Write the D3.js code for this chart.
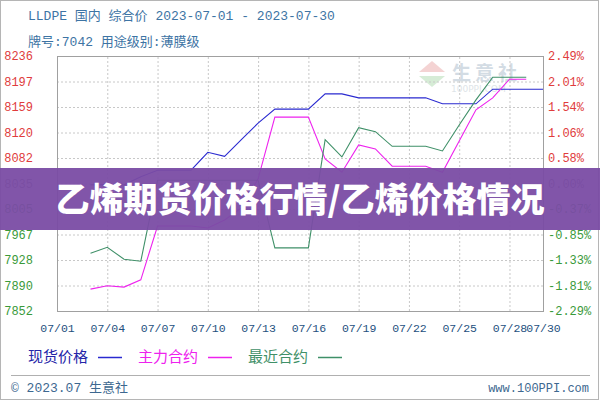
<!DOCTYPE html>
<html>
<head>
<meta charset="utf-8">
<script src="https://cdn.jsdelivr.net/npm/d3@7"></script>
<style>
  body { margin: 0; background: #fff; }
  svg { display: block; }
</style>
</head>
<body>
<svg id="chart" width="600" height="400"></svg>
<script>
// ---- data ----
var xTickDays   = [1, 4, 7, 10, 13, 16, 19, 22, 25, 28, 30];
var leftLabels  = ["8236", "8197", "8159", "8120", "8082", "8035", "8005", "7967", "7928", "7890", "7852"];
var rightLabels = ["2.49%", "2.01%", "1.54%", "1.06%", "0.58%", "0.00%", "-0.37%", "-0.85%", "-1.33%", "-1.81%", "-2.29%"];

// 现货价格 (spot), 07/03 .. 07/30
var spotDays = [3, 4, 5, 6, 7, 8, 9, 10, 11, 12, 13, 14, 15, 16, 17, 18, 19, 20, 21, 22, 23, 24, 25, 26, 27, 28, 29, 30];
var spotPrice = [8042, 8042, 8042, 8054, 8064, 8064, 8064, 8091, 8085, 8110, 8135, 8156, 8156, 8156, 8179, 8179,
                 8173, 8173, 8173, 8173, 8173, 8164, 8164, 8164, 8186, 8186, 8186, 8186];

// 主力合约 (main contract), 07/03 .. 07/29
var mainDays = [3, 4, 5, 6, 7, 8, 9, 10, 11, 12, 13, 14, 15, 16, 17, 18, 19, 20, 21, 22, 23, 24, 25, 26, 27, 28, 29];
var mainPrice = [7885, 7890, 7888, 7899, 7980, 7980, 7980, 7977, 7989, 8007, 8051, 8144, 8144, 8144, 8081, 8061,
                 8102, 8096, 8070, 8070, 8070, 8061, 8108, 8155, 8173, 8201, 8201];

// 最近合约 (nearest contract), 07/03 .. 07/29
var nearDays = [3, 4, 5, 6, 7, 8, 9, 10, 11, 12, 13, 14, 15, 16, 17, 18, 19, 20, 21, 22, 23, 24, 25, 26, 27, 28, 29];
var nearPrice = [7939, 7948, 7930, 7927, 8049, 8049, 8049, 8049, 8049, 8049, 8049, 7947, 7947, 7947, 8110, 8084,
                 8128, 8122, 8100, 8100, 8100, 8093, 8132, 8170, 8204, 8204, 8204];

var legendNames = ["现货价格", "主力合约", "最近合约"];

// ---- layout ----
var svg = d3.select("#chart");
var plotL = 57, plotR = 543, plotT = 56, plotB = 311;
var monoFont = "'Liberation Mono', 'DejaVu Sans Mono', 'Noto Sans CJK SC', monospace";
var cjkFont = "'Noto Sans CJK SC', 'Noto Sans', sans-serif";

var xScale = d3.scaleLinear().domain([1, 30]).range([plotL, plotR]);
var yScale = d3.scaleLinear().domain([7852, 8236]).range([plotB, plotT]);
var yIdx = d3.scaleLinear().domain([0, 10]).range([plotT, plotB]); // label rows

// outer frame
svg.append("rect")
    .attr("x", 0.5).attr("y", 0.5)
    .attr("width", 598).attr("height", 399)
    .style("fill", "none").style("stroke", "#b5b5b5");

// header text
svg.append("text")
    .attr("x", 28).attr("y", 20)
    .style("font-family", monoFont).style("font-size", "13px")
    .style("fill", "#3d74a4")
    .text("LLDPE 国内 综合价 2023-07-01 - 2023-07-30");

svg.append("text")
    .attr("x", 28).attr("y", 46)
    .style("font-family", monoFont).style("font-size", "13px")
    .style("fill", "#3d74a4")
    .text("牌号:7042 用途级别:薄膜级");

// watermark logo
var wm = svg.append("g").attr("class", "watermark").style("opacity", 0.45);
wm.append("path")
    .attr("d", "M419,72 L432,61 L445,72 Z")
    .style("fill", "#e8a0a0");
wm.append("path")
    .attr("d", "M419,76 L445,76 L432,87 Z")
    .style("fill", "#a5d6a5");
wm.append("text")
    .attr("x", 452).attr("y", 80)
    .style("font-family", cjkFont).style("font-size", "19px").style("font-weight", "bold")
    .style("letter-spacing", "4px")
    .style("fill", "#9fb3c4")
    .text("生意社");
wm.append("text")
    .attr("x", 451).attr("y", 92)
    .style("font-family", "'DejaVu Sans', sans-serif").style("font-size", "9px")
    .style("fill", "#b8c4cc")
    .text("100PPI.COM");

// horizontal grid
svg.append("g")
    .attr("class", "grid")
    .attr("transform", `translate(${plotL},0)`)
    .call(d3.axisLeft(yIdx).tickValues(d3.range(11)).tickSize(-(plotR - plotL)).tickFormat(""))
    .call(g => g.select(".domain").remove());

// vertical grid
svg.append("g")
    .attr("class", "grid")
    .attr("transform", `translate(0,${plotB})`)
    .call(d3.axisBottom(xScale).tickValues(xTickDays.slice(1, -1)).tickSize(-(plotB - plotT)).tickFormat(""))
    .call(g => g.select(".domain").remove());

svg.selectAll(".grid line")
    .style("stroke", "#c8c8c8")
    .style("stroke-dasharray", "2,2");

// plot frame
svg.append("rect")
    .attr("x", plotL + 0.5).attr("y", plotT + 0.5)
    .attr("width", plotR - plotL).attr("height", plotB - plotT)
    .style("fill", "none").style("stroke", "#a0a0a0");

// label colours: red above base, grey at base, green below
function labelColor(i) {
    if (i < 5) return "#e03c3c";
    if (i == 5) return "#777";
    return "#3a9a3a";
}

// left axis labels
svg.append("g")
    .attr("transform", `translate(${plotL},0)`)
    .call(d3.axisLeft(yIdx).tickValues(d3.range(11)).tickSize(0).tickPadding(24)
        .tickFormat(i => leftLabels[i]))
    .call(g => g.select(".domain").remove())
    .selectAll("text")
    .style("font-family", monoFont).style("font-size", "12px")
    .style("fill", (d) => labelColor(d));

// right axis labels
svg.append("g")
    .attr("transform", `translate(${plotR},0)`)
    .call(d3.axisRight(yIdx).tickValues(d3.range(11)).tickSize(0).tickPadding(5)
        .tickFormat(i => rightLabels[i]))
    .call(g => g.select(".domain").remove())
    .selectAll("text")
    .style("font-family", monoFont).style("font-size", "12px")
    .style("fill", (d) => labelColor(d));

// x axis labels
svg.append("g")
    .attr("transform", `translate(0,${plotB})`)
    .call(d3.axisBottom(xScale).tickValues(xTickDays).tickSize(0).tickPadding(13)
        .tickFormat(d => "07/" + (d < 10 ? "0" + d : d)))
    .call(g => g.select(".domain").remove())
    .selectAll("text")
    .style("font-family", monoFont).style("font-size", "11.5px")
    .style("fill", "#24507e");

// lines
var seriesList = [
    { days: spotDays, values: spotPrice, color: "#2a2ad0" },
    { days: mainDays, values: mainPrice, color: "#ee22ee" },
    { days: nearDays, values: nearPrice, color: "#3f9068" }
];

var line = d3.line()
    .x(d => xScale(d[0]))
    .y(d => yScale(d[1]));

seriesList.forEach(function(s) {
    svg.append("path")
        .datum(d3.zip(s.days, s.values))
        .attr("class", "line")
        .attr("d", line)
        .style("fill", "none")
        .style("stroke", s.color)
        .style("stroke-width", 1.1);
});

// legend
var legendX = [28, 138, 248];
var legendText = ["#2424a8", "#ee22ee", "#3f9068"];
var legend = svg.append("g").attr("class", "legend");
legendNames.forEach(function(name, i) {
    legend.append("text")
        .attr("x", legendX[i]).attr("y", 362)
        .style("font-family", cjkFont).style("font-size", "15px")
        .style("fill", legendText[i])
        .text(name);
    legend.append("line")
        .attr("x1", legendX[i] + 70).attr("x2", legendX[i] + 94)
        .attr("y1", 357.5).attr("y2", 357.5)
        .style("stroke", seriesList[i].color)
        .style("stroke-width", 1.5);
});

// footer
svg.append("line")
    .attr("x1", 11).attr("x2", 590)
    .attr("y1", 375.5).attr("y2", 375.5)
    .style("stroke", "#b0b0b0");

svg.append("text")
    .attr("x", 11).attr("y", 392)
    .style("font-family", monoFont).style("font-size", "13px")
    .style("fill", "#3d6890")
    .text("© 2023.07 生意社");

svg.append("text")
    .attr("x", 589).attr("y", 392)
    .attr("text-anchor", "end")
    .style("font-family", monoFont).style("font-size", "12px")
    .style("fill", "#3d6890")
    .text("www.100PPI.com");

// purple title banner on top
svg.append("rect")
    .attr("x", 0).attr("y", 168)
    .attr("width", 600).attr("height", 62)
    .style("fill", "#7a4ca4")
    .style("opacity", 0.95);

svg.append("text")
    .attr("x", 300).attr("y", 212)
    .attr("text-anchor", "middle")
    .style("font-family", cjkFont).style("font-size", "34px").style("font-weight", "900")
    .style("fill", "#ffffff")
    .text("乙烯期货价格行情/乙烯价格情况");
</script>
</body>
</html>
